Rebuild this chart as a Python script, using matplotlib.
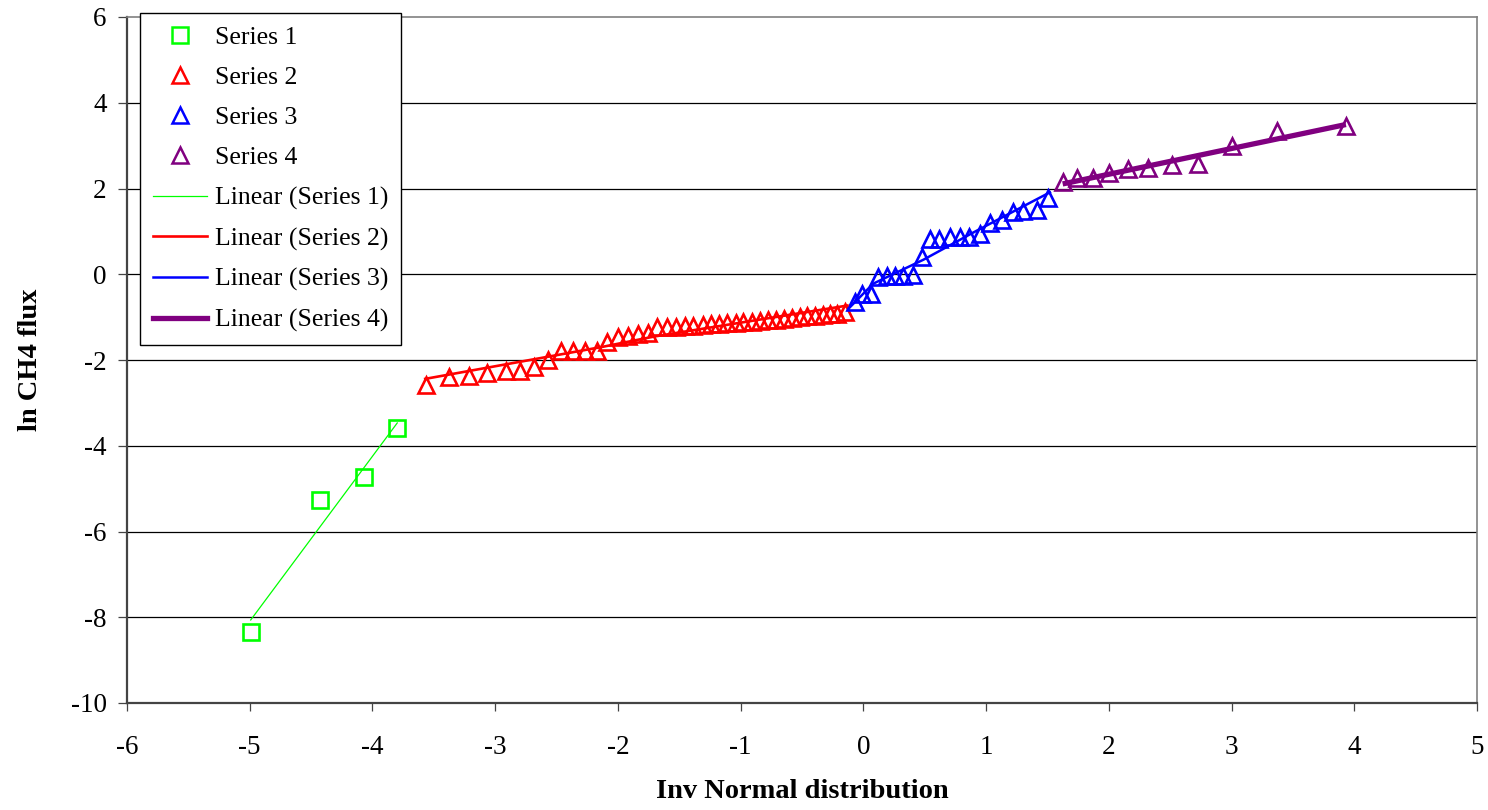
import numpy as np
import matplotlib
matplotlib.use("Agg")
import matplotlib.pyplot as plt
from matplotlib.lines import Line2D

plt.rcParams['font.family'] = ['Liberation Serif', 'DejaVu Serif']

# ---- data -------------------------------------------------------------
s1_x = [-4.992, -4.427, -4.066, -3.798]
s1_y = [-8.34, -5.27, -4.72, -3.59]

s2_x = [-3.566, -3.376, -3.213, -3.064, -2.914, -2.798, -2.681, -2.567, -2.464,
        -2.363, -2.268, -2.173, -2.091, -1.997, -1.915, -1.834, -1.752, -1.679,
        -1.603, -1.529, -1.453, -1.386, -1.309, -1.244, -1.176, -1.109, -1.040,
        -0.978, -0.910, -0.842, -0.780, -0.712, -0.647, -0.584, -0.517, -0.457,
        -0.394, -0.332, -0.272, -0.213, -0.150]
s2_y = [-2.58, -2.39, -2.37, -2.30, -2.25, -2.25, -2.16, -2.01, -1.79,
        -1.79, -1.79, -1.78, -1.57, -1.47, -1.43, -1.40, -1.38, -1.24,
        -1.22, -1.22, -1.21, -1.20, -1.19, -1.17, -1.16, -1.14, -1.13,
        -1.12, -1.11, -1.09, -1.07, -1.06, -1.04, -1.02, -1.00, -0.98,
        -0.97, -0.95, -0.93, -0.92, -0.89]

s3_x = [-0.068, -0.014, 0.060, 0.122, 0.190, 0.258, 0.325, 0.402, 0.475, 0.543,
        0.619, 0.706, 0.787, 0.863, 0.950, 1.032, 1.127, 1.217, 1.303, 1.412, 1.507]
s3_y = [-0.65, -0.47, -0.45, -0.06, -0.04, -0.04, -0.04, -0.02, 0.40, 0.83,
        0.83, 0.87, 0.87, 0.88, 0.95, 1.20, 1.26, 1.45, 1.48, 1.49, 1.79]

s4_x = [1.624, 1.743, 1.868, 2.004, 2.159, 2.322, 2.517, 2.729, 3.006, 3.367, 3.932]
s4_y = [2.14, 2.25, 2.24, 2.37, 2.45, 2.47, 2.55, 2.57, 2.98, 3.34, 3.46]

# trend lines for series 2 and 3 (vertices)
t2_x = [-3.57, -2.64, -2.12, -1.70, -0.13]
t2_y = [-2.44, -1.96, -1.69, -1.45, -0.73]
t3_x = [-0.11, 0.08, 0.49, 0.90, 1.52]
t3_y = [-0.77, -0.22, 0.34, 0.98, 1.91]

x_ticks = [-6, -5, -4, -3, -2, -1, 0, 1, 2, 3, 4, 5]
y_ticks = [6, 4, 2, 0, -2, -4, -6, -8, -10]

GREEN, RED, BLUE, PURPLE = '#00FF00', '#FF0000', '#0000FF', '#800080'

# ---- figure -----------------------------------------------------------
fig = plt.figure(figsize=(14.88, 8.10), dpi=100)
W, H = 1488, 810
ax = fig.add_axes([127 / W, 1 - 703 / H, (1477 - 127) / W, (703 - 17) / H])

ax.set_xlim(-6, 5)
ax.set_ylim(-10, 6)
ax.set_xticks(x_ticks)
ax.set_yticks(y_ticks)
ax.set_xticklabels([str(v) for v in x_ticks])
ax.set_yticklabels([str(v) for v in y_ticks])

for yv in y_ticks[1:-1]:
    ax.axhline(yv, color='#000000', lw=0.9, zorder=1)

# linear fits of series 1 and 4
def fit_line(xs, ys):
    k, b = np.polyfit(xs, ys, 1)
    xe = np.array([min(xs), max(xs)])
    return xe, k * xe + b

f1x, f1y = fit_line(s1_x, s1_y)
f4x, f4y = fit_line(s4_x, s4_y)

MS, MEW = 11, 1.9
mk = dict(linestyle='none', markerfacecolor='none', markeredgewidth=MEW, zorder=3)
ax.plot(s1_x, s1_y, marker='s', markersize=MS, markeredgecolor=GREEN, **mk)
ax.plot(s2_x, s2_y, marker='^', markersize=MS, markeredgecolor=RED, **mk)
ax.plot(s3_x, s3_y, marker='^', markersize=MS, markeredgecolor=BLUE, **mk)
ax.plot(s4_x, s4_y, marker='^', markersize=MS, markeredgecolor=PURPLE, **mk)

ax.plot(f1x, f1y, color=GREEN, lw=0.9, zorder=4)
ax.plot(t2_x, t2_y, color=RED, lw=1.9, zorder=4)
ax.plot(t3_x, t3_y, color=BLUE, lw=1.8, zorder=4)
ax.plot(f4x, f4y, color=PURPLE, lw=3.8, zorder=4, solid_capstyle='butt')

# spines and ticks
for side in ('left', 'bottom'):
    ax.spines[side].set_color('#444444')
    ax.spines[side].set_linewidth(1.6)
for side in ('top', 'right'):
    ax.spines[side].set_color('#808080')
    ax.spines[side].set_linewidth(1.2)

ax.tick_params(axis='x', direction='out', length=6, width=0.9, color='#444444',
               labelsize=19.5, pad=17)
ax.tick_params(axis='y', direction='out', length=6.5, width=0.9, color='#444444',
               labelsize=19.5, pad=8)

ax.set_xlabel('Inv Normal distribution', fontsize=20.5, fontweight='bold')
ax.set_ylabel('ln CH4 flux', fontsize=20.5, fontweight='bold')
ax.xaxis.label.set_va('center')
ax.yaxis.label.set_va('center')
ax.xaxis.set_label_coords(0.5, (703 - 791) / 686, transform=ax.transAxes)
ax.yaxis.set_label_coords((31 - 127) / 1350, 0.5, transform=ax.transAxes)

# legend
mh = dict(linestyle='none', markerfacecolor='none', markeredgewidth=1.8, markersize=11)
handles = [
    Line2D([], [], marker='s', markeredgecolor=GREEN, **mh),
    Line2D([], [], marker='^', markeredgecolor=RED, **mh),
    Line2D([], [], marker='^', markeredgecolor=BLUE, **mh),
    Line2D([], [], marker='^', markeredgecolor=PURPLE, **mh),
    Line2D([], [], color=GREEN, lw=0.9),
    Line2D([], [], color=RED, lw=1.9),
    Line2D([], [], color=BLUE, lw=1.8),
    Line2D([], [], color=PURPLE, lw=3.8),
]
labels = ['Series 1', 'Series 2', 'Series 3', 'Series 4',
          'Linear (Series 1)', 'Linear (Series 2)', 'Linear (Series 3)', 'Linear (Series 4)']
leg = ax.legend(handles, labels, loc='upper left',
                bbox_to_anchor=((140 - 127) / 1350, (703 - 13) / 686),
                borderaxespad=0, fontsize=18.5, frameon=True, fancybox=False,
                edgecolor='black', framealpha=1, borderpad=0.5,
                labelspacing=0.67, handlelength=2.1, handletextpad=0.3,
                numpoints=1)
leg.get_frame().set_linewidth(1.0)
leg.set_zorder(10)

fig.savefig('out.png', dpi=100)
